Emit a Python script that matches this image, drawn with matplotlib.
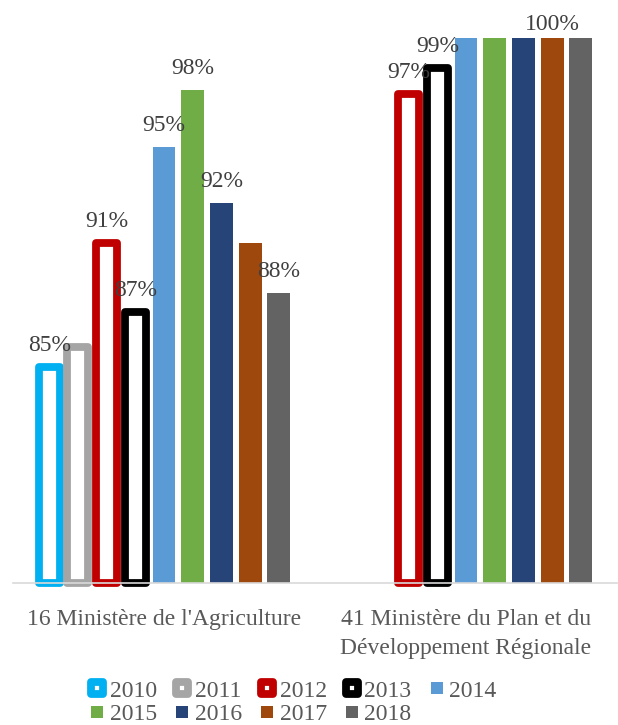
import numpy as np
import matplotlib
matplotlib.use("Agg")
import matplotlib.pyplot as plt
from matplotlib.lines import Line2D
from matplotlib.markers import MarkerStyle

plt.rcParams['font.family'] = ['Liberation Serif', 'DejaVu Serif']

# ---- data ----
categories = ["16 Ministère de l'Agriculture",
              "41 Ministère du Plan et du\nDéveloppement Régionale"]
years = ["2010", "2011", "2012", "2013", "2014", "2015", "2016", "2017", "2018"]
agriculture = [84.9, 85.8, 90.6, 87.4, 95.0, 97.6, 92.4, 90.6, 88.3]
plan = [np.nan, np.nan, 97.4, 98.6, 100.0, 100.0, 100.0, 100.0, 100.0]
show_label_agri = [True, False, True, True, True, True, True, False, True]
show_label_plan = [False, False, True, True, False, False, False, True, False]

colors = ["#00B0F0", "#A5A5A5", "#C00000", "#000000", "#5B9BD5",
          "#70AD47", "#264478", "#9E480E", "#636363"]
outlined = [True, True, True, True, False, False, False, False, False]

ymin, ymax = 75, 100

fig = plt.figure(figsize=(6.18, 7.25), dpi=100)
ax = fig.add_axes([13/618, 1-583/725, 604/618, (583-37.5)/725])

series = np.array([agriculture, plan])  # shape (2, 9)
labels_show = np.array([show_label_agri, show_label_plan])
x = np.arange(len(categories))
pitch = 0.095

handles = []
for i, yr in enumerate(years):
    vals = series[:, i]
    xpos = x + (i - 4) * pitch
    if outlined[i]:
        bars = ax.bar(xpos, vals - ymin, bottom=ymin, width=0.0695,
                      facecolor="white", edgecolor=colors[i], linewidth=5.6,
                      clip_on=False, zorder=2)
        for b in bars:
            b.set_joinstyle('round')
        h = Line2D([], [], linestyle='none',
                   marker=MarkerStyle('s', joinstyle='round'),
                   markersize=8.6, markerfacecolor='white',
                   markeredgecolor=colors[i], markeredgewidth=5.6)
    else:
        bars = ax.bar(xpos, vals - ymin, bottom=ymin, width=0.076,
                      facecolor=colors[i], edgecolor='none',
                      clip_on=False, zorder=2)
        h = Line2D([], [], linestyle='none', marker='s', markersize=8,
                   markerfacecolor=colors[i], markeredgecolor=colors[i],
                   markeredgewidth=0)
    handles.append(h)
    for g in range(len(categories)):
        v = vals[g]
        if labels_show[g, i] and not np.isnan(v):
            off = 5.5 if v >= 100 else 11.5
            ax.annotate(f"{round(v)}%", (xpos[g], v), xytext=(0, off),
                        textcoords='offset points', ha='center', va='baseline',
                        fontsize=17, color="#404040", annotation_clip=False)

ax.set_ylim(ymin, ymax)
ax.set_xlim(-0.5, 1.5)
ax.set_yticks([])
ax.set_xticks(x, categories)
ax.tick_params(axis='x', length=0, pad=19, labelsize=17, labelcolor="#595959")
for lab in ax.get_xticklabels():
    lab.set_linespacing(1.5)
for s in ['left', 'right', 'top']:
    ax.spines[s].set_visible(False)
ax.spines['bottom'].set_color("#D9D9D9")
ax.spines['bottom'].set_linewidth(1.2)
ax.spines['bottom'].set_zorder(3)

# legend: reorder so entries read row by row
order = [0, 5, 1, 6, 2, 7, 3, 8, 4]
leg = fig.legend([handles[k] for k in order], [years[k] for k in order],
                 ncol=5, loc='center', bbox_to_anchor=(292/618, 1-702.5/725),
                 frameon=False, fontsize=17, handlelength=0.85,
                 handletextpad=0.1, columnspacing=0.65, labelspacing=0.08,
                 borderpad=0)
for t in leg.get_texts():
    t.set_color("#595959")

fig.savefig("out.png", dpi=100)
